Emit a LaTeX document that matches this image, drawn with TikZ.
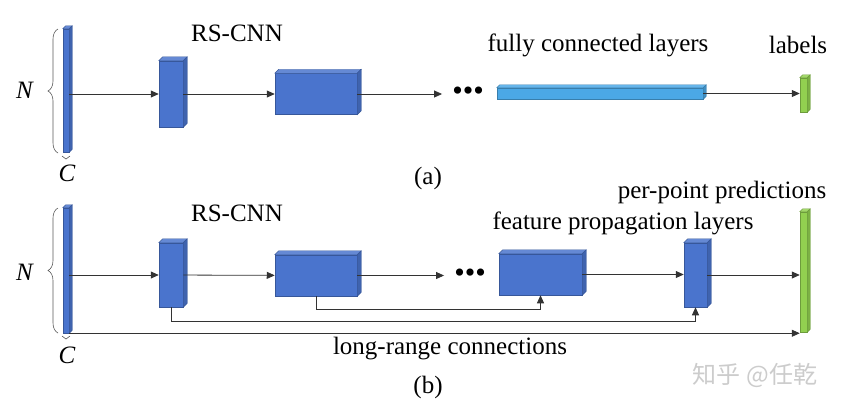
\documentclass[tikz,border=0pt]{standalone}
\usepackage{fontspec}
\setmainfont{Liberation Serif}
\newfontfamily\cjk{Noto Sans CJK SC}
\usepackage{tikz}
\usetikzlibrary{positioning,arrows.meta,decorations.pathreplacing}
\definecolor{blk}{HTML}{4A74CD}
\definecolor{fcb}{HTML}{4BA8E6}
\definecolor{grn}{HTML}{92D050}
\definecolor{wire}{HTML}{333333}

\begin{document}
\begin{tikzpicture}[x=1pt, y=-1pt, every node/.style={font=\fontsize{25}{30}\selectfont, inner sep=0pt},
  block/.style = {draw=blk!75!black, line width=0.5pt, fill=blk, rectangle, inner sep=0pt},
  fcblock/.style = {block, draw=fcb!75!black, fill=fcb},
  outblock/.style = {block, draw=grn!75!black, fill=grn},
  dots/.style = {font=\fontsize{30}{30}\selectfont, inner xsep=10pt},
  conn/.style = {draw=wire, line width=0.8pt, -{Triangle[length=8pt,width=7pt]}},
  curly/.style = {draw=gray!70!black, line width=0.6pt, decorate}]

\useasboundingbox (0,0) rectangle (842,408);

% (a) classification
\node (inA) [block, minimum width=6, minimum height=123] at (66,90.5) {};
\node (b1a) [block, minimum width=24, minimum height=66] at (171,94) {};
\node (b2a) [block, minimum width=82, minimum height=41] at (316,94) {};
\node (dotsA) [dots] at (468,94) {\textbullet\textbullet\textbullet};
\node (fcA) [fcblock, minimum width=206, minimum height=11] at (600,93.5) {};
\node (labA) [outblock, minimum width=7, minimum height=34] at (803.5,95) {};

% (b) segmentation
\node (inB) [block, minimum width=6, minimum height=125] at (66,270.5) {};
\node (b1b) [block, minimum width=24, minimum height=64] at (171,275) {};
\node (b2b) [block, minimum width=82, minimum height=41] at (316,275.5) {};
\node (dotsB) [dots] at (470,275.5) {\textbullet\textbullet\textbullet};
\node (fp1) [block, minimum width=83, minimum height=41] at (540.5,274.5) {};
\node (fp2) [block, minimum width=23, minimum height=64] at (695.5,275) {};
\node (outB) [outblock, minimum width=7, minimum height=120] at (803.5,272) {};

% depth faces
\foreach \n/\d/\c in {inA/3/blk, b1a/4/blk, b2a/4/blk, fcA/3/fcb, labA/3/grn,
                      inB/3/blk, b1b/4/blk, b2b/4/blk, fp1/4/blk, fp2/4/blk, outB/3/grn}
{
  \filldraw[fill=\c!85!white, draw=\c!75!black, line width=0.4pt] (\n.north west) -- ++(\d,-\d) -- ([shift={(\d,-\d)}]\n.north east) -- (\n.north east) -- cycle;
  \filldraw[fill=\c!85!black, draw=\c!75!black, line width=0.4pt] (\n.north east) -- ++(\d,-\d) -- ([shift={(\d,-\d)}]\n.south east) -- (\n.south east) -- cycle;
}

% Labels
\node (rsA) at (237,33) {RS-CNN};
\node (fcl) at (598,45) {fully connected layers};
\node (labl) at (798,45) {labels};
\node (capA) at (428,178) {(a)};
\node (nA) at (25,90) {\textit{N}};
\node (cA) at (67,173) {\textit{C}};
\node (rsB) at (237,213) {RS-CNN};
\node (fpl) at (623,223) {feature propagation layers};
\node (ppl) at (722,192) {per-point predictions};
\node (lrl) at (450,349) {long-range connections};
\node (capB) at (428,387) {(b)};
\node (nB) at (25,272) {\textit{N}};
\node (cB) at (67,355) {\textit{C}};
\node (mark) [font=\cjk\fontsize{24}{28}\selectfont, text=gray!40] at (755,375) {知乎 @任乾};

% Braces
\draw[curly, decoration={brace, amplitude=10pt}] (58,153) -- (58,29);
\draw[curly, decoration={brace, amplitude=3pt}] (70,156) -- (62,156);
\draw[curly, decoration={brace, amplitude=10pt}] (58,333) -- (58,208);
\draw[curly, decoration={brace, amplitude=3pt}] (70,336) -- (62,336);

% Arrows
\draw [conn] (inA.east |- b1a.west) -- (b1a.west);
\draw [conn] (b1a) -- (b2a);
\draw [conn] (b2a) -- (dotsA);
\draw [conn] (fcA) -- (labA.west |- fcA.east);
\draw [conn] (inB.east |- b1b.west) -- (b1b.west);
\draw [conn] (b1b) -- (b2b);
\draw [conn] (b2b) -- (dotsB);
\draw [conn] (fp1) -- (fp2.west |- fp1.east);
\draw [conn] (fp2) -- (outB.west |- fp2.east);
\draw [conn] (b2b.south) -- ++(0,13) -| (fp1.south);
\draw [conn] (b1b.south) -- ++(0,14) -| (fp2.south);
\draw [conn] (inB.south east) -- (inB.south east -| outB.west);
\end{tikzpicture}
\end{document}
